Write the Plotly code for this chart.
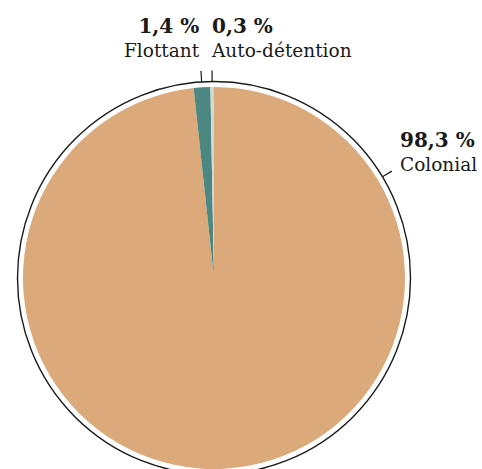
import math
import plotly.graph_objects as go

# ---- data ----
labels = ["Colonial", "Flottant", "Auto-détention"]
values = [98.3, 1.4, 0.3]
value_texts = ["98,3 %", "1,4 %", "0,3 %"]
colors = ["#DBA97A", "#4C8782", "#D2D8D7"]

W, H = 482, 469
cx, cy = 214, 278          # pie centre in px
r_pie = 191
r_ring = 196.5
tick_len = 11

fig = go.Figure(go.Pie(
    labels=labels, values=values, sort=False, direction="clockwise", rotation=0,
    marker=dict(colors=colors, line=dict(color="white", width=0)),
    textinfo="none", hoverinfo="skip", showlegend=False,
    domain=dict(x=[(cx - r_pie) / W, (cx + r_pie) / W], y=[0, 1 - (cy - r_pie) / H]),
))

def px2paper(x, y):
    return x / W, 1 - y / H

shapes = []
x0, y0 = px2paper(cx - r_ring, cy + r_ring)
x1, y1 = px2paper(cx + r_ring, cy - r_ring)
shapes.append(dict(type="circle", xref="paper", yref="paper", x0=x0, x1=x1, y0=y0, y1=y1,
                   line=dict(color="#1a1a1a", width=1.4)))

total = sum(values)
cum = 0
mids = []
for v in values:
    mids.append((cum + v / 2) / total * 360)
    cum += v
# Colonial label placed upper-right
label_angles = [59, mids[1], mids[2]]
anchors = ["left", "right", "left"]

annotations = []
for i, ang in enumerate(label_angles):
    a = math.radians(ang)
    sx, sy = cx + r_ring * math.sin(a), cy - r_ring * math.cos(a)
    ex, ey = cx + (r_ring + tick_len) * math.sin(a), cy - (r_ring + tick_len) * math.cos(a)
    p0 = px2paper(sx, sy)
    p1 = px2paper(ex, ey)
    shapes.append(dict(type="line", xref="paper", yref="paper", x0=p0[0], y0=p0[1], x1=p1[0], y1=p1[1],
                       line=dict(color="#1a1a1a", width=1.2)))
    if i == 0:
        ax, ay = ex + 6, ey + 6
    elif anchors[i] == "right":
        ax, ay = ex + 1, ey - 8
    else:
        ax, ay = ex - 3, ey - 8
    pa = px2paper(ax, ay)
    annotations.append(dict(
        xref="paper", yref="paper", x=pa[0], y=pa[1], xanchor=anchors[i], yanchor="bottom",
        align=anchors[i], showarrow=False,
        text=f"<span style='font-size:20px'><b>{value_texts[i]}</b></span><br>{labels[i]}",
        font=dict(family="DejaVu Serif", size=18.5, color="#1a1a1a"),
    ))

fig.update_layout(
    width=W, height=H, margin=dict(l=0, r=0, t=0, b=0),
    paper_bgcolor="white", plot_bgcolor="white",
    shapes=shapes, annotations=annotations,
)
fig.write_html("out.html")
